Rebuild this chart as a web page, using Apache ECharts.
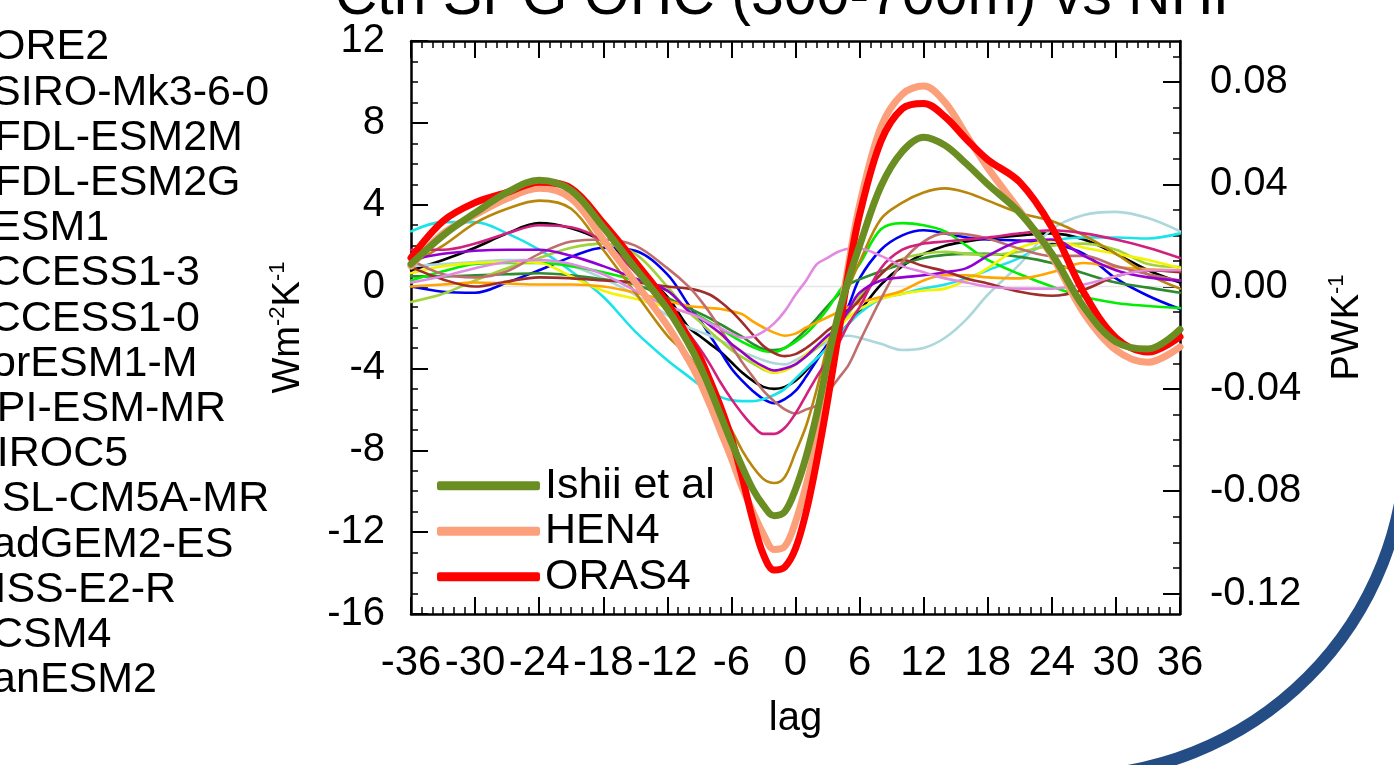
<!DOCTYPE html>
<html><head><meta charset="utf-8">
<script src="https://cdn.jsdelivr.net/npm/echarts@6/dist/echarts.min.js"></script>
<style>html,body{margin:0;padding:0;background:#fff;overflow:hidden}#c{width:1394px;height:765px}</style>
</head><body><div id="c"></div>
<script>
// ---- data ----
const lags = [-36,-33,-30,-27,-24,-21,-18,-15,-12,-10,-9,-8,-7,-6,-5,-4,-3,-2,-1,0,1,2,3,4,5,6,8,10,12,14,16,18,21,24,27,30,33,36];

const modelNames = ['CORE2','CSIRO-Mk3-6-0','GFDL-ESM2M','GFDL-ESM2G','CESM1','ACCESS1-3','ACCESS1-0','NorESM1-M','MPI-ESM-MR','MIROC5','IPSL-CM5A-MR','HadGEM2-ES','GISS-E2-R','CCSM4','CanESM2'];

const core2    = [0.8,1.3,1.9,2.6,3.1,2.85,2.2,1.0,-0.5, -2.0,-2.4,-2.8,-3.2,-3.7,-4.2,-4.6,-4.9,-5.0,-4.9, -4.6, -4.1,-3.5,-2.9,-2.4,-1.8,-1.2, 0.1,1.0,1.6,2.0,2.2,2.35, 2.5,2.6,2.3,1.6,0.8,0.2];
const csiro    = [0.0,-0.25,-0.3,0.2,0.8,1.45,1.9,1.75,0.6, -0.9,-1.6,-2.4,-3.2,-4.0,-4.6,-5.1,-5.5,-5.7,-5.5, -5.1, -4.4,-3.6,-2.8,-2.0,-0.9,0.4, 1.8,2.5,2.75,2.6,2.4,2.3, 2.25,2.1,1.6,0.4,-0.45,-1.1];
const gfdlM    = [2.7,3.15,3.15,2.6,1.8,0.75,-0.5,-2.2,-3.6, -4.4,-4.8,-5.1,-5.4,-5.55,-5.6,-5.6,-5.5,-5.3,-5.0, -4.5, -4.0,-3.5,-3.0,-2.4,-1.8,-1.3, -0.6,-0.35,-0.1,0.1,0.4,0.8, 1.4,2.2,2.4,2.4,2.35,2.6];
const gfdlG    = [1.0,1.1,1.2,1.3,1.3,1.0,0.4,-0.4,-1.4, -2.0,-2.2,-2.4,-2.65,-2.9,-3.2,-3.4,-3.6,-3.75,-3.8, -3.6, -3.3,-3.0,-2.7,-2.45,-2.4,-2.5, -2.8,-3.1,-3.0,-2.5,-1.6,-0.4, 1.1,2.8,3.5,3.65,3.35,2.7];
const cesm1    = [0.5,0.5,0.55,0.6,0.65,0.55,0.35,0.1,-0.55, -1.05,-1.3,-1.55,-1.85,-2.15,-2.45,-2.8,-3.05,-3.1,-3.0, -2.6, -2.1,-1.55,-0.95,-0.4,0.1,0.35, 0.75,1.1,1.4,1.55,1.6,1.6, 1.45,1.15,0.65,0.2,-0.05,-0.3];
const access13 = [0.3,0.75,1.1,1.15,1.15,1.0,0.7,0.3,-0.2, -1.2,-1.45,-1.75,-2.05,-2.4,-2.7,-2.95,-3.15,-3.2,-3.0, -2.7, -2.3,-1.75,-1.1,-0.3,0.4,1.1, 2.8,3.1,3.0,2.7,2.0,1.3, 0.6,0.0,-0.5,-0.8,-0.95,-1.05];
const access10 = [-0.75,-0.35,0.3,0.9,1.4,1.9,2.1,1.6,0.0, -1.25,-1.7,-2.2,-2.65,-3.1,-3.45,-3.75,-4.05,-4.2,-4.1, -3.8, -3.4,-3.0,-2.5,-1.95,-1.3,-0.5, 0.6,1.35,1.6,1.7,1.6,1.55, 1.7,2.0,2.1,1.8,1.1,0.95];
const noresm   = [0.65,1.0,1.15,1.2,1.15,0.5,-0.2,-0.6,-1.0, -1.3,-1.5,-1.9,-2.35,-2.8,-3.2,-3.6,-4.0,-4.2,-4.1, -3.8, -3.3,-2.9,-2.5,-2.0,-1.5,-1.1, -0.6,-0.35,-0.2,-0.1,0.3,0.9, 1.9,2.2,1.9,1.6,1.3,0.9];
const mpi      = [0.0,0.1,0.2,0.15,0.1,0.1,0.0,-0.3,-0.7, -0.95,-1.0,-1.05,-1.1,-1.2,-1.35,-1.7,-2.0,-2.25,-2.4, -2.3, -2.0,-1.75,-1.5,-1.25,-1.0,-0.8, -0.5,-0.2,0.3,0.55,0.55,0.45, 0.4,0.7,1.15,0.95,0.85,0.8];
const miroc5   = [1.1,2.0,3.1,3.8,4.2,3.8,1.8,-0.3,-2.4, -3.4,-4.2,-5.0,-6.1,-7.0,-8.0,-8.8,-9.4,-9.6,-9.3, -8.1, -6.8,-5.0,-2.9,-1.3,0.0,1.2, 3.3,4.1,4.6,4.8,4.6,4.2, 3.6,3.2,2.5,1.6,0.6,-0.1];
const ipsl     = [0.95,0.35,0.0,0.25,0.45,0.4,0.3,0.2,0.0, -0.1,-0.2,-0.4,-0.75,-1.2,-1.75,-2.35,-2.9,-3.25,-3.4, -3.3, -3.0,-2.6,-2.15,-1.75,-1.2,-0.65, 0.6,1.3,1.0,0.75,0.4,0.15, -0.25,-0.45,-0.15,0.5,0.8,0.7];
const hadgem   = [1.3,0.6,0.45,0.75,1.6,2.2,2.3,2.0,0.9, 0.0,-0.6,-1.3,-2.1,-2.9,-3.7,-4.4,-5.1,-5.6,-6.0, -6.2, -6.0,-5.8,-5.2,-4.5,-3.8,-2.7, -0.6,1.2,2.2,2.6,2.55,2.35, 1.85,1.5,1.5,1.0,0.6,0.3];
const giss     = [1.8,1.8,2.1,2.6,3.0,2.9,2.2,0.7,-0.9, -2.3,-3.0,-3.8,-4.7,-5.5,-6.2,-6.8,-7.2,-7.2,-6.9, -6.2, -5.3,-4.4,-3.6,-2.8,-1.8,-1.0, 0.9,1.8,2.1,2.2,2.3,2.4, 2.6,2.75,2.6,2.3,1.9,1.4];
const ccsm4    = [1.3,1.6,1.75,1.8,1.8,1.5,1.0,0.4,-0.2, -1.2,-1.5,-1.9,-2.3,-2.8,-3.2,-3.6,-3.9,-4.1,-4.0, -3.8, -3.4,-2.9,-2.4,-2.0,-1.1,-0.3, 0.3,0.45,0.55,0.7,0.9,1.5, 2.2,2.3,1.5,0.8,0.45,0.3];
const canesm2  = [0.2,0.5,0.9,1.2,1.3,1.1,0.6,-0.2,-0.95, -1.3,-1.5,-1.8,-2.05,-2.3,-2.5,-2.45,-2.2,-1.8,-1.2, -0.4, 0.3,1.1,1.4,1.7,1.85,1.85, 1.5,1.0,0.7,0.4,0.2,0.0, -0.1,-0.1,0.1,0.5,0.8,0.8];

const obsNames = ['Ishii et al','HEN4','ORAS4'];
const ishii = [1.1,2.5,3.6,4.6,5.2,4.7,2.9,0.9,-1.1, -2.8,-3.8,-5.0,-6.3,-7.6,-8.8,-9.9,-10.7,-11.2,-11.0, -9.9, -8.3,-6.2,-3.7,-1.4,0.4,2.0, 4.9,6.6,7.3,6.9,6.0,5.0, 3.6,1.6,-1.0,-2.7,-3.05,-2.1];
const hen4  = [1.0,2.6,3.5,4.3,4.8,4.3,2.3,0.2,-1.9, -3.6,-4.6,-5.8,-7.1,-8.4,-9.8,-11.0,-12.1,-12.85,-12.7, -11.5, -9.7,-7.5,-4.7,-1.9,1.2,4.0, 7.8,9.4,9.8,9.0,7.4,5.8, 3.7,1.5,-1.3,-3.1,-3.7,-2.95];
const oras4 = [1.4,3.2,4.1,4.6,5.1,4.8,3.1,1.2,-0.8, -2.5,-3.4,-4.6,-5.9,-7.4,-9.3,-11.4,-13.1,-13.85,-13.7, -12.8, -11.0,-8.5,-5.6,-2.4,0.8,3.5, 7.1,8.7,8.95,8.3,7.2,6.2, 5.1,2.9,-0.3,-2.5,-3.2,-2.45];

const leftRange = [-16, 12];
const rightRange = [-0.128, 0.096];
const rightTickValues = [-0.12,-0.08,-0.04,0,0.04,0.08];
const titleText = 'Ctrl SPG OHC (300-700m) vs NHF';

// ---- styles ----
const modelValues = [core2,csiro,gfdlM,gfdlG,cesm1,access13,access10,noresm,mpi,miroc5,ipsl,hadgem,giss,ccsm4,canesm2];
const modelColors = ['#000000','#0000f0','#18e4ea','#acd8dc','#2e8b2e','#00ee00','#a0d23a','#f4f400','#ffa500','#b8860b','#a02c2c','#bf6e6e','#d2207e','#9400d3','#e28ae2'];
const obsValues = [ishii, hen4, oras4];
const obsColors = ['#6b8e23','#fca07c','#ff0000'];
const FONT = 'Liberation Sans, Arial, Helvetica, sans-serif';

[...modelValues, ...obsValues].forEach((a,i)=>{ if(a.length!==lags.length) throw new Error('length mismatch in series '+i+': '+a.length); });

const pairs = arr => lags.map((l,i)=>[l, arr[i]]);
const rightMinor = [];
for (let k=-12; k<=9; k++) rightMinor.push(k/100);

const series = [{
  type:'line', name:'zero', data:[[-36,0],[36,0]], symbol:'none', silent:true,
  lineStyle:{color:'#e6e6e6', width:1.5}, z:1
}];
modelNames.forEach((n,i)=>series.push({
  type:'line', name:n, data:pairs(modelValues[i]), smooth:0.35, symbol:'none', showSymbol:false,
  color:modelColors[i], lineStyle:{color:modelColors[i], width:2.6, cap:'round', join:'round'}, z:2
}));
[1,2,0].forEach(i=>series.push({
  type:'line', name:obsNames[i], data:pairs(obsValues[i]), smooth:0.35, symbol:'none', showSymbol:false,
  color:obsColors[i], lineStyle:{color:obsColors[i], width:7, cap:'round', join:'round'}, z:3
}));

const axisBase = {
  axisLine:{show:true, onZero:false, lineStyle:{color:'#000', width:2.5}},
  splitLine:{show:false}, minorSplitLine:{show:false}
};

const option = {
  animation:false,
  backgroundColor:'#fff',
  textStyle:{fontFamily:FONT},
  grid:{left:411, right:214, top:41, bottom:151, containLabel:false, outerBoundsMode:'none'},
  legend:[{
    data:modelNames, orient:'vertical', left:-69, top:25, padding:0, itemGap:0,
    icon:'rect', itemWidth:25, itemHeight:4, selectedMode:false,
    textStyle:{fontSize:43, color:'#000', fontFamily:FONT, lineHeight:45.2}
  },{
    data:obsNames, orient:'vertical', left:437, top:463, padding:0, itemGap:0,
    icon:'roundRect', itemWidth:103, itemHeight:9, selectedMode:false,
    textStyle:{fontSize:43, color:'#000', fontFamily:FONT, lineHeight:45.5}
  }],
  xAxis:[{
    ...axisBase, type:'value', position:'bottom', min:-36, max:36, interval:6,
    axisTick:{show:true, inside:true, length:17, lineStyle:{color:'#000', width:2}},
    minorTick:{show:true, splitNumber:6, length:7, lineStyle:{color:'#000', width:1.5}},
    axisLabel:{fontSize:42, color:'#000', margin:28, fontFamily:FONT},
    name:'lag', nameLocation:'middle', nameGap:85,
    nameTextStyle:{fontSize:40, color:'#000', fontFamily:FONT}
  },{
    ...axisBase, type:'value', position:'top', min:-36, max:36, interval:6,
    axisTick:{show:true, inside:true, length:17, lineStyle:{color:'#000', width:2}},
    minorTick:{show:true, splitNumber:6, length:7, lineStyle:{color:'#000', width:1.5}},
    axisLabel:{show:false}
  }],
  yAxis:[{
    ...axisBase, type:'value', position:'left', min:leftRange[0], max:leftRange[1], interval:4,
    axisTick:{show:true, inside:true, length:17, lineStyle:{color:'#000', width:2}},
    minorTick:{show:true, splitNumber:4, length:7, lineStyle:{color:'#000', width:1.5}},
    axisLabel:{fontSize:40, color:'#000', margin:26, fontFamily:FONT},
    name:'{a|Wm}{b|-2}{a|K}{b|-1}', nameLocation:'middle', nameRotate:90, nameGap:100,
    nameTextStyle:{color:'#000', fontFamily:FONT, rich:{
      a:{fontSize:38, lineHeight:44, fontFamily:FONT, color:'#000'},
      b:{fontSize:22, lineHeight:22, verticalAlign:'top', fontFamily:FONT, color:'#000'}
    }}
  },{
    ...axisBase, type:'value', position:'right', min:rightRange[0], max:rightRange[1],
    axisTick:{show:true, inside:true, length:17, customValues:rightTickValues, lineStyle:{color:'#000', width:2}},
    axisLabel:{fontSize:40, color:'#000', margin:30, fontFamily:FONT, customValues:rightTickValues,
      formatter:v=>v.toFixed(2)},
    name:'{a|PWK}{b|-1}', nameLocation:'middle', nameRotate:90, nameGap:146,
    nameTextStyle:{color:'#000', fontFamily:FONT, rich:{
      a:{fontSize:38, lineHeight:44, fontFamily:FONT, color:'#000'},
      b:{fontSize:22, lineHeight:22, verticalAlign:'top', fontFamily:FONT, color:'#000'}
    }}
  },{
    ...axisBase, type:'value', position:'right', min:rightRange[0], max:rightRange[1],
    axisLine:{show:false, onZero:false},
    axisTick:{show:true, inside:true, length:7, customValues:rightMinor, lineStyle:{color:'#000', width:1.5}},
    axisLabel:{show:false, customValues:rightMinor}
  }],
  graphic:[{
    type:'arc', silent:true, z:-1,
    shape:{cx:1070, cy:440, r:336, startAngle:0, endAngle:1.6, clockwise:true},
    style:{stroke:'#244c85', lineWidth:12, fill:null}
  },{
    type:'text', silent:true, x:792, y:-2,
    style:{text:titleText, fontSize:59, fontFamily:FONT, fill:'#000', align:'center', verticalAlign:'middle', textAlign:'center', textVerticalAlign:'middle'}
  }],
  series:series
};
const chart = echarts.init(document.getElementById('c'), null, {renderer:'canvas'});
chart.setOption(option);
</script>
</body></html>
